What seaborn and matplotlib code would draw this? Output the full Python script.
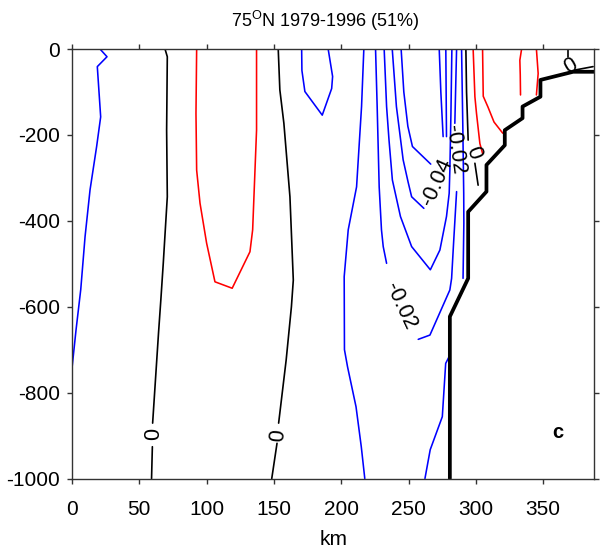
import matplotlib
matplotlib.use("Agg")
import matplotlib.pyplot as plt
import seaborn as sns
import pandas as pd

# ---------------- data (km, depth in m) ----------------
# negative (blue) contour pieces
neg_left_km = [20.8, 26.0, 18.8, 21.3, 18.3, 13.4, 9.7, 6.5, 3.0, 0.0]
neg_left_dep = [0, -18, -41, -158, -227, -328, -437, -560, -654, -743]
neg_loop_km = [170.6, 170.8, 173.0, 185.9, 192.9, 193.6, 190.3]
neg_loop_dep = [0, -50, -99, -154, -92, -64, 0]
neg_a_km = [216.8, 215.1, 211.4, 205.2, 202.2, 202.4, 204.7, 211.0, 214.9, 217.5]
neg_a_dep = [0, -134, -321, -421, -530, -700, -740, -833, -926, -1000]
neg_b_up_km = [225.5, 226.7, 228.2, 229.9, 231.2, 233.7]
neg_b_up_dep = [0, -134, -321, -421, -460, -499]
neg_b_low_km = [257.2, 265.9, 280.7, 282.0, 283.5, 285.7]
neg_b_low_dep = [-676, -666, -561, -534, -450, -332]
neg_b_top_km = [285.7, 284.4]
neg_b_top_dep = [0, -173]
neg_c_km = [231.9, 233.7, 235.5, 238.0, 244.0, 252.3, 266.2, 273.3, 278.2, 280.2, 280.7, 281.5, 282.2]
neg_c_dep = [0, -134, -212, -305, -390, -460, -514, -468, -390, -336, -282, -150, 0]
neg_d_km = [237.9, 241.0, 246.0, 249.7, 252.3, 261.4]
neg_d_dep = [0, -134, -258, -310, -344, -371]
neg_g_km = [277.7, 278.2]
neg_g_dep = [0, -204]
neg_e_km = [244.5, 246.5, 249.5, 252.9, 266.5]
neg_e_dep = [0, -100, -180, -227, -268]
neg_f_km = [272.8, 274.0, 275.7]
neg_f_dep = [0, -100, -204]
neg_j_up_km = [289.4, 290.3, 291.0, 291.1, 290.5]
neg_j_up_dep = [0, -174, -336, -406, -534]
neg_j_low_km = [280.2, 277.6, 275.1, 266.1, 262.2]
neg_j_low_dep = [-716, -732, -856, -933, -1000]

# positive (red) contour pieces
pos_core_km = [92.6, 92.1, 92.6, 95.1, 100.0, 106.2, 119.0, 132.2, 134.2, 137.1, 137.1]
pos_core_dep = [0, -150, -282, -359, -452, -542, -557, -472, -421, -189, 0]
pos_r2_km = [298.0, 299.3, 300.5, 303.0, 305.0]
pos_r2_dep = [0, -111, -150, -220, -243]
pos_r3_km = [305.0, 305.5, 309.0, 313.5, 320.0]
pos_r3_dep = [0, -110, -135, -170, -196]
pos_r4_km = [334.0, 332.7, 333.0, 333.2]
pos_r4_dep = [0, -26, -60, -107]
pos_r5_km = [345.0, 346.3, 345.0]
pos_r5_dep = [0, -57, -107]

# zero (black) contour pieces
zero_1_up_km = [69.1, 70.8, 70.3, 70.8, 67.8, 66.0, 64.3, 59.9]
zero_1_up_dep = [0, -18, -189, -344, -499, -584, -660, -871]
zero_1_low_km = [59.7, 59.1]
zero_1_low_dep = [-926, -1000]
zero_2_up_km = [153.2, 154.4, 157.4, 161.9, 164.4, 163.0, 159.1, 153.5]
zero_2_up_dep = [0, -95, -173, -344, -538, -600, -724, -871]
zero_2_low_km = [152.3, 148.4]
zero_2_low_dep = [-918, -1000]
zero_3_up_km = [292.6, 293.1, 294.3]
zero_3_up_dep = [0, -100, -212]
zero_3_low_km = [299.3, 301.7]
zero_3_low_dep = [-266, -317]
zero_4_up_km = [368.6, 368.6]
zero_4_up_dep = [0, -18]
zero_4_low_km = [373.5, 387.1]
zero_4_low_dep = [-49, -41]

# bottom topography
topo_km = [280.7, 280.7, 294.3, 294.3, 307.9, 307.9, 321.5, 321.5, 334.7, 334.7, 348.0, 348.0, 372.3, 390.0]
topo_dep = [-1000, -623, -534, -379, -332, -270, -224, -189, -161, -134, -111, -72, -53, -53]

# contour labels: text, km, depth, rotation
label_text = ["0", "0", "-0.02", "-0.04", "-0.02", "0", "0"]
label_km = [61.0, 153.5, 244.0, 271.3, 284.8, 297.8, 370.5]
label_dep = [-897, -899, -598, -309, -235, -242, -41]
label_rot = [90, 85, -65, 66, -82, -70, 30]

x_ticks = [0, 50, 100, 150, 200, 250, 300, 350]
y_ticks = [0, -200, -400, -600, -800, -1000]
title_text = r"75$^{\mathrm{O}}$N 1979-1996 (51%)"
panel_letter = "c"

# ---------------- build long tables ----------------
def table(pieces):
    rows = []
    for i, (k, d) in enumerate(pieces):
        for j, (a, b) in enumerate(zip(k, d)):
            rows.append({"seg": i, "order": j, "km": a, "depth": b})
    return pd.DataFrame(rows)

neg_df = table([(neg_left_km, neg_left_dep), (neg_loop_km, neg_loop_dep),
                (neg_a_km, neg_a_dep), (neg_b_up_km, neg_b_up_dep),
                (neg_b_low_km, neg_b_low_dep), (neg_b_top_km, neg_b_top_dep),
                (neg_c_km, neg_c_dep), (neg_d_km, neg_d_dep), (neg_g_km, neg_g_dep),
                (neg_e_km, neg_e_dep), (neg_f_km, neg_f_dep),
                (neg_j_up_km, neg_j_up_dep), (neg_j_low_km, neg_j_low_dep)])
pos_df = table([(pos_core_km, pos_core_dep), (pos_r2_km, pos_r2_dep),
                (pos_r3_km, pos_r3_dep), (pos_r4_km, pos_r4_dep), (pos_r5_km, pos_r5_dep)])
zero_df = table([(zero_1_up_km, zero_1_up_dep), (zero_1_low_km, zero_1_low_dep),
                 (zero_2_up_km, zero_2_up_dep), (zero_2_low_km, zero_2_low_dep),
                 (zero_3_up_km, zero_3_up_dep), (zero_3_low_km, zero_3_low_dep),
                 (zero_4_up_km, zero_4_up_dep), (zero_4_low_km, zero_4_low_dep)])
topo_df = table([(topo_km, topo_dep)])

# ---------------- style ----------------
sns.set_theme(style="ticks")
plt.rcParams["font.family"] = ["Liberation Sans", "DejaVu Sans"]
plt.rcParams["mathtext.fontset"] = "custom"
plt.rcParams["mathtext.rm"] = "Liberation Sans"
plt.rcParams["mathtext.it"] = "Liberation Sans:italic"
plt.rcParams["axes.unicode_minus"] = False
plt.rcParams["text.color"] = "black"
plt.rcParams["axes.labelcolor"] = "black"
plt.rcParams["xtick.labelcolor"] = "black"
plt.rcParams["ytick.labelcolor"] = "black"

fig = plt.figure(figsize=(6.02, 5.55), dpi=100)
ax = fig.add_axes([0.1196, 0.1378, 0.8676, 0.7739])

common = dict(x="km", y="depth", units="seg", estimator=None, sort=False, legend=False, ax=ax)
sns.lineplot(data=neg_df, color="#0000ff", linewidth=1.15, **common)
sns.lineplot(data=pos_df, color="#ff0000", linewidth=1.15, **common)
sns.lineplot(data=zero_df, color="black", linewidth=1.2, **common)
sns.lineplot(data=topo_df, color="black", linewidth=2.7, **common)

for t, k, d, r in zip(label_text, label_km, label_dep, label_rot):
    ax.text(k, d, t, rotation=r, ha="center", va="center", fontsize=15.5,
            rotation_mode="anchor", color="black")

ax.text(361, -892, panel_letter, fontsize=14.5, fontweight="bold", ha="center", va="center")

ax.set_xlim(0, 388)
ax.set_ylim(-1000, 0)
ax.set_xticks(x_ticks)
ax.set_yticks(y_ticks)
ax.set_xlabel("km", fontsize=15, labelpad=8)
ax.set_ylabel("")
ax.set_title(title_text, fontsize=13, pad=16, x=0.484, color="black")

for s in ax.spines.values():
    s.set_visible(True)
    s.set_color("#333333")
    s.set_linewidth(1.0)
ax.tick_params(axis="both", which="both", direction="out", length=3.5, width=1.0,
               color="#333333", labelsize=15, labelcolor="black", top=True, right=True)
ax.tick_params(axis="x", pad=12)
ax.tick_params(axis="y", pad=5)

fig.savefig("out.png", dpi=100, facecolor="white")
